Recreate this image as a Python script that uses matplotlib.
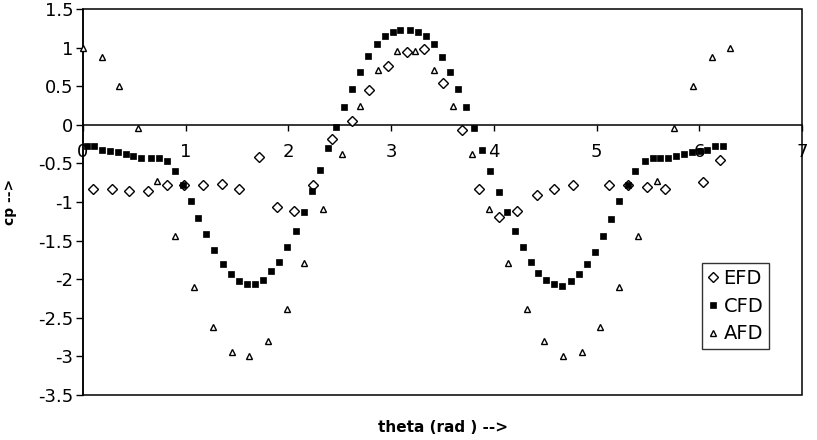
import numpy as np
import matplotlib.pyplot as plt
from matplotlib.patches import Rectangle

plt.rcParams['font.family'] = ['DejaVu Sans']

# Dati sperimentali (EFD)
theta_efd = [0.098, 0.283, 0.452, 0.634, 0.817, 0.988, 1.171, 1.356, 1.522, 1.71,
             1.89, 2.059, 2.244, 2.429, 2.615, 2.787, 2.969, 3.154, 3.32, 3.505,
             3.69, 3.86, 4.046, 4.227, 4.416, 4.582, 4.771, 5.125, 5.31, 5.493,
             5.668, 6.036, 6.205]
cp_efd = [-0.836, -0.836, -0.853, -0.853, -0.78, -0.78, -0.78, -0.763, -0.836, -0.413,
          -1.061, -1.113, -0.78, -0.188, 0.053, 0.451, 0.766, 0.947, 0.982, 0.546,
          -0.067, -0.836, -1.19, -1.113, -0.909, -0.836, -0.78, -0.78, -0.78, -0.80,
          -0.836, -0.745, -0.452]

# Risultati numerici (CFD)
theta_cfd = [0.042, 0.110, 0.188, 0.263, 0.339, 0.417, 0.491, 0.569, 0.663, 0.739,
             0.817, 0.891, 0.973, 1.047, 1.122, 1.20, 1.275, 1.366, 1.444, 1.522,
             1.60, 1.678, 1.756, 1.831, 1.906, 1.984, 2.075, 2.153, 2.231, 2.309,
             2.387, 2.465, 2.543, 2.618, 2.696, 2.774, 2.859, 2.94, 3.015, 3.083,
             3.183, 3.261, 3.34, 3.418, 3.496, 3.574, 3.652, 3.73, 3.802, 3.88,
             3.958, 4.049, 4.127, 4.202, 4.28, 4.358, 4.429, 4.507, 4.585, 4.663,
             4.754, 4.832, 4.91, 4.985, 5.063, 5.141, 5.217, 5.304, 5.376, 5.467,
             5.545, 5.62, 5.695, 5.773, 5.851, 5.929, 6.007, 6.078, 6.156, 6.234]
cp_cfd = [-0.275, -0.275, -0.32, -0.34, -0.356, -0.374, -0.408, -0.43, -0.43, -0.43,
          -0.469, -0.598, -0.78, -0.983, -1.21, -1.418, -1.622, -1.807, -1.937, -2.027,
          -2.066, -2.066, -2.01, -1.898, -1.773, -1.587, -1.372, -1.133, -0.853, -0.581,
          -0.30, -0.028, 0.227, 0.468, 0.688, 0.891, 1.043, 1.15, 1.202, 1.224,
          1.224, 1.202, 1.15, 1.043, 0.874, 0.688, 0.468, 0.227, -0.045, -0.322,
          -0.598, -0.874, -1.13, -1.372, -1.587, -1.773, -1.916, -2.01, -2.066, -2.084,
          -2.027, -1.937, -1.807, -1.644, -1.44, -1.22, -0.985, -0.78, -0.598, -0.469,
          -0.43, -0.43, -0.43, -0.408, -0.374, -0.356, -0.34, -0.32, -0.275, -0.275]

# Soluzione analitica (AFD)
theta_afd = [0.0, 0.185, 0.354, 0.54, 0.722, 0.891, 1.076, 1.262, 1.447, 1.617,
             1.802, 1.984, 2.153, 2.335, 2.52, 2.693, 2.875, 3.06, 3.229, 3.415,
             3.60, 3.785, 3.954, 4.14, 4.322, 4.491, 4.676, 4.861, 5.031, 5.217,
             5.402, 5.587, 5.753, 5.938, 6.124, 6.296]
cp_afd = [1.0, 0.874, 0.503, -0.045, -0.728, -1.44, -2.105, -2.623, -2.939, -2.991,
          -2.804, -2.382, -1.794, -1.095, -0.378, 0.244, 0.71, 0.96, 0.96, 0.71,
          0.244, -0.378, -1.095, -1.794, -2.382, -2.804, -2.991, -2.939, -2.623, -2.105,
          -1.44, -0.728, -0.045, 0.503, 0.874, 1.0]

fig = plt.figure(figsize=(8.17, 4.40), dpi=100)
ax = fig.add_axes([83/817, 1 - 395/440, 719/817, 386/440])

ax.plot(theta_efd, cp_efd, 'D', ms=5, mfc='white', mec='black', mew=1.0,
        label='EFD', clip_on=False, zorder=3)
ax.plot(theta_cfd, cp_cfd, 's', ms=4, mfc='black', mec='black', mew=0.5,
        label='CFD', clip_on=False, zorder=4)
ax.plot(theta_afd, cp_afd, '^', ms=4.8, mfc='white', mec='black', mew=1.0,
        label='AFD', clip_on=False, zorder=5)

ax.set_xlim(0, 7)
ax.set_ylim(-3.5, 1.5)
ax.set_xticks(range(0, 8))
ax.set_yticks(np.arange(-3.5, 1.6, 0.5))
ax.set_yticklabels(['-3.5', '-3', '-2.5', '-2', '-1.5', '-1', '-0.5', '0', '0.5', '1', '1.5'])
ax.set_axisbelow(True)

# asse x passante per lo zero, cornice attorno all'area del grafico
for s in ['top', 'right']:
    ax.spines[s].set_visible(False)
ax.spines['bottom'].set_position(('data', 0))
ax.spines['bottom'].set_linewidth(1.1)
ax.spines['left'].set_linewidth(1.1)
ax.add_patch(Rectangle((0, 0), 1, 1, transform=ax.transAxes, fill=False,
                       edgecolor='black', lw=1.1, clip_on=False, zorder=1))

ax.tick_params(axis='x', direction='out', length=4, width=1, pad=9, labelsize=13)
ax.tick_params(axis='y', direction='out', length=5, width=1, pad=2, labelsize=13)

ax.set_xlabel('theta (rad ) -->', fontsize=11, fontweight='bold')
ax.xaxis.set_label_coords(0.5, -0.083)
ax.xaxis.label.set_verticalalignment('center')
fig.text(0.012, 0.54, 'cp -->', rotation=90, fontsize=10, fontweight='bold',
         ha='center', va='center')

leg = ax.legend(loc='upper left', bbox_to_anchor=(619/719, 1 - 254/386),
                fontsize=14, frameon=True, fancybox=False, edgecolor='black',
                handlelength=0.5, handletextpad=0.3, borderpad=0.3,
                labelspacing=0.45, borderaxespad=0)
leg.get_frame().set_linewidth(1)

fig.savefig('out.png', dpi=100)
